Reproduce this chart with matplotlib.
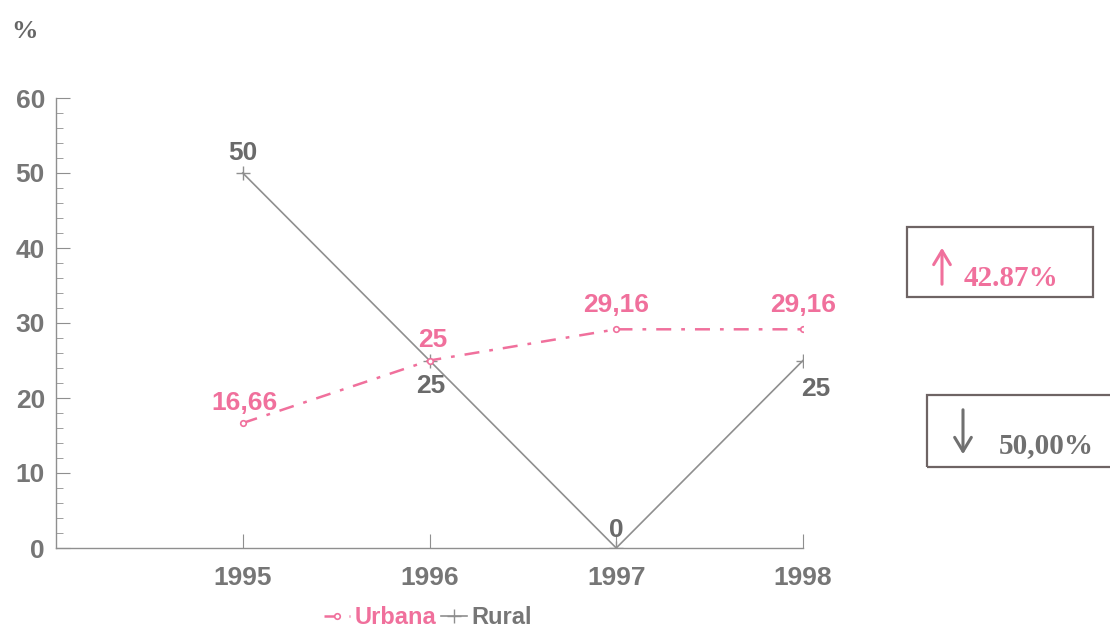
import matplotlib
matplotlib.use("Agg")
import matplotlib.pyplot as plt
from matplotlib.ticker import MultipleLocator
from matplotlib.patches import Rectangle, FancyArrowPatch

years = [1995, 1996, 1997, 1998]
urbana = [16.66, 25, 29.16, 29.16]
rural = [50, 25, 0, 25]
urbana_labels = ["16,66", "25", "29,16", "29,16"]
rural_labels = ["50", "25", "0", "25"]
change_urbana = "42.87%"
change_rural = "50,00%"

PINK = "#f0709c"
GRAY = "#767676"
LINE_GRAY = "#8f8f8f"
SANS = ["Liberation Sans Narrow", "Liberation Sans", "DejaVu Sans"]
SERIF = ["Liberation Serif", "DejaVu Serif"]

fig = plt.figure(figsize=(11.1, 6.3), dpi=100)
ax = fig.add_axes([56 / 1110, 82 / 630, (803 - 56) / 1110, 450 / 630])

ax.plot(years, rural, color=LINE_GRAY, lw=1.2, marker="+", ms=10, mew=1.0,
        label="Rural", zorder=2)
ax.plot(years, urbana, color=PINK, lw=1.8, ls=(0, (6, 4, 1.5, 4)),
        marker="o", ms=4, mfc="white", mec=PINK, mew=1.2, label="Urbana",
        zorder=3)

ax.set_xlim(1994, 1998)
ax.set_ylim(0, 60)
ax.set_xticks(years)
ax.yaxis.set_major_locator(MultipleLocator(10))
ax.yaxis.set_minor_locator(MultipleLocator(2))
ax.tick_params(axis="both", which="both", direction="in", colors=LINE_GRAY)
ax.tick_params(axis="y", which="major", length=10, width=0.8)
ax.tick_params(axis="y", which="minor", length=5, width=0.6)
ax.tick_params(axis="x", which="major", length=10, width=0.8, pad=13)
ax.tick_params(axis="y", pad=8)
for lab in ax.get_xticklabels() + ax.get_yticklabels():
    lab.set_family(SANS)
    lab.set_fontweight("bold")
    lab.set_fontsize(19)
    lab.set_color(GRAY)
for side in ("top", "right"):
    ax.spines[side].set_visible(False)
for side in ("left", "bottom"):
    ax.spines[side].set_color(LINE_GRAY)
    ax.spines[side].set_linewidth(1.0)

lab_kw = dict(family=SANS, fontsize=19, fontweight="bold")
# Urbana value labels
u_off = [(1, 6), (2, 6), (0, 9), (0, 9)]
for x, y, t, (dx, dy) in zip(years, urbana, urbana_labels, u_off):
    ax.annotate(t, (x, y), xytext=(dx, dy), textcoords="offset points",
                ha="center", va="bottom", color=PINK, **lab_kw)
# Rural value labels
r_off = [(0, 6, "center", "bottom"), (1, -10, "center", "top"),
         (0, 4, "center", "bottom"), (9, -12, "center", "top")]
for x, y, t, (dx, dy, ha, va) in zip(years, rural, rural_labels, r_off):
    ax.annotate(t, (x, y), xytext=(dx, dy), textcoords="offset points",
                ha=ha, va=va, color="#6a6a6a", **lab_kw)

# Unit label
fig.text(25 / 1110, 1 - 31 / 630, "%", family=SERIF, fontsize=19,
         fontweight="bold", color="#666666", ha="center", va="center")

# Legend below the axis
leg = fig.legend(handles=ax.get_lines()[::-1], loc="center",
                 bbox_to_anchor=(428 / 1110, 1 - 618 / 630), ncol=2,
                 frameon=False, handlelength=1.1, handletextpad=0.2,
                 columnspacing=0.2, prop=dict(family=SANS, size=17,
                                              weight="bold"))
for txt, col in zip(leg.get_texts(), [PINK, GRAY]):
    txt.set_color(col)

# Change boxes on the right
def change_box(x0, y0, x1, y1, color, text, arrow_x, arrow_y0, arrow_y1,
               text_x, text_y):
    W, H = 1110, 630
    fig.patches.append(Rectangle((x0 / W, 1 - y1 / H), (x1 - x0) / W,
                                 (y1 - y0) / H, transform=fig.transFigure,
                                 fill=False, edgecolor="#6e6464", lw=1.6))
    fig.patches.append(FancyArrowPatch((arrow_x / W, 1 - arrow_y0 / H),
                                       (arrow_x / W, 1 - arrow_y1 / H),
                                       transform=fig.transFigure,
                                       arrowstyle="->,head_length=10,head_width=6",
                                       color=color, lw=2.2))
    fig.text(text_x / W, 1 - text_y / H, text, family=SERIF, fontsize=21,
             fontweight="bold", color=color, ha="left", va="center")

change_box(907, 227, 1093, 297, PINK, change_urbana, 942, 287, 245, 964, 278)
change_box(927, 395, 1112, 467, "#707070", change_rural, 963, 407, 457, 999, 446)

fig.savefig("out.png", dpi=100, facecolor="white")
